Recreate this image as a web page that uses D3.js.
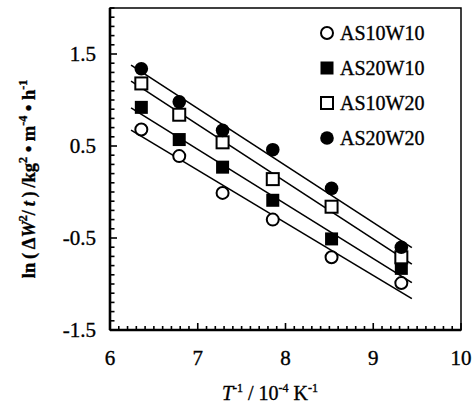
<!DOCTYPE html>
<html>
<head>
<meta charset="utf-8">
<script src="https://cdn.jsdelivr.net/npm/d3@7"></script>
<style>
  body { margin: 0; background: #fff; }
  svg text { font-family: "Liberation Serif", "DejaVu Serif", serif; fill: #000; stroke: #000; stroke-width: 0.35px; }
</style>
</head>
<body>
<div class="canvas"></div>
<script>
// Data: x = 10^4 / T, y = ln(dW^2/t)
const invT = [6.357, 6.789, 7.283, 7.855, 8.525, 9.320]
const seriesNames = ['AS10W10', 'AS20W10', 'AS10W20', 'AS20W20']
const as10w10 = [0.68, 0.39, -0.01, -0.30, -0.71, -0.99]
const as20w10 = [0.92, 0.57, 0.27, -0.09, -0.51, -0.83]
const as10w20 = [1.18, 0.84, 0.54, 0.14, -0.16, -0.71]
const as20w20 = [1.34, 0.98, 0.67, 0.46, 0.04, -0.60]
const xTicks = [6, 7, 8, 9, 10]
const yTicks = [-1.5, -0.5, 0.5, 1.5]
const fitRange = [6.24, 9.44]

const values = [as10w10, as20w10, as10w20, as20w20]
const shapes = ['circle-open', 'square-filled', 'square-open', 'circle-filled']

const width = 475
const height = 407
const margin = { top: 8, right: 14, bottom: 77, left: 110 }
const graphWidth = width - margin.left - margin.right
const graphHeight = height - margin.top - margin.bottom

const svg = d3.select('.canvas')
  .append('svg')
  .attr('width', width)
  .attr('height', height)

const graph = svg.append('g')
  .attr('transform', `translate(${margin.left}, ${margin.top})`)

// Scales
const x = d3.scaleLinear().domain([6, 10]).range([0, graphWidth])
const y = d3.scaleLinear().domain([-1.5, 2.0]).range([graphHeight, 0])

// Minor ticks (inside)
const xMinor = d3.range(60, 101).map(d => d / 10)
const yMinor = d3.range(-15, 21).map(d => d / 10)

graph.append('g').selectAll('line')
  .data(xMinor)
  .enter().append('line')
  .attr('x1', d => x(d)).attr('x2', d => x(d))
  .attr('y1', graphHeight).attr('y2', d => graphHeight - (xTicks.includes(d) ? 7 : 4))
  .attr('stroke', '#000').attr('stroke-width', 1.6)

graph.append('g').selectAll('line')
  .data(yMinor)
  .enter().append('line')
  .attr('y1', d => y(d)).attr('y2', d => y(d))
  .attr('x1', 0).attr('x2', d => (yTicks.includes(d) ? 7 : 4.5))
  .attr('stroke', '#000').attr('stroke-width', 1.6)

// Frame
graph.append('rect')
  .attr('width', graphWidth)
  .attr('height', graphHeight)
  .attr('fill', 'none')
  .attr('stroke', '#000')
  .attr('stroke-width', 1.5)
graph.append('line')
  .attr('x1', 0).attr('x2', 0).attr('y1', 0).attr('y2', graphHeight)
  .attr('stroke', '#000').attr('stroke-width', 2.6)
graph.append('line')
  .attr('x1', 0).attr('x2', graphWidth).attr('y1', graphHeight).attr('y2', graphHeight)
  .attr('stroke', '#000').attr('stroke-width', 2.6)

// Tick labels
graph.append('g').selectAll('text')
  .data(xTicks)
  .enter().append('text')
  .attr('x', d => x(d))
  .attr('y', graphHeight + 35)
  .attr('text-anchor', 'middle')
  .attr('font-size', 21)
  .text(d => d)

graph.append('g').selectAll('text')
  .data(yTicks)
  .enter().append('text')
  .attr('x', -14)
  .attr('y', d => y(d) + 7)
  .attr('text-anchor', 'end')
  .attr('font-size', 21)
  .text(d => d)

// Least squares fit lines
const fit = (xs, ys) => {
  const mx = d3.mean(xs), my = d3.mean(ys)
  const b = d3.sum(xs, (v, i) => (v - mx) * (ys[i] - my)) / d3.sum(xs, v => (v - mx) * (v - mx))
  return v => my + b * (v - mx)
}

values.forEach(vals => {
  const f = fit(invT, vals)
  graph.append('line')
    .attr('x1', x(fitRange[0])).attr('y1', y(f(fitRange[0])))
    .attr('x2', x(fitRange[1])).attr('y2', y(f(fitRange[1])))
    .attr('stroke', '#000')
    .attr('stroke-width', 1.6)
})

// Markers
const drawMarker = (g, shape, cx, cy) => {
  const filled = shape.endsWith('filled')
  if (shape.startsWith('circle')) {
    g.append('circle')
      .attr('cx', cx).attr('cy', cy).attr('r', filled ? 6.8 : 6)
      .attr('fill', filled ? '#000' : '#fff')
      .attr('stroke', '#000').attr('stroke-width', filled ? 0 : 2)
  } else {
    const s = filled ? 13 : 12
    g.append('rect')
      .attr('x', cx - s / 2).attr('y', cy - s / 2)
      .attr('width', s).attr('height', s)
      .attr('fill', filled ? '#000' : '#fff')
      .attr('stroke', '#000').attr('stroke-width', filled ? 0 : 2)
  }
}

values.forEach((vals, k) => {
  const g = graph.append('g')
  vals.forEach((v, i) => drawMarker(g, shapes[k], x(invT[i]), y(v)))
})

// Legend
const legend = graph.append('g')
seriesNames.forEach((name, i) => {
  const ly = 25 + i * 35
  drawMarker(legend, shapes[i], 217, ly)
  legend.append('text')
    .attr('x', 230)
    .attr('y', ly + 7)
    .attr('font-size', 20)
    .text(name)
})

// X axis title
const xTitle = svg.append('text')
  .attr('x', 270)
  .attr('y', 400)
  .attr('text-anchor', 'middle')
  .attr('font-size', 20)
xTitle.append('tspan').attr('font-style', 'italic').text('T')
xTitle.append('tspan').attr('font-size', 12).attr('dy', -8).text('-1')
xTitle.append('tspan').attr('dy', 8).text(' / 10')
xTitle.append('tspan').attr('font-size', 12).attr('dy', -8).text('-4')
xTitle.append('tspan').attr('dy', 8).text(' K')
xTitle.append('tspan').attr('font-size', 12).attr('dy', -8).text('-1')

// Y axis title
const yTitle = svg.append('text')
  .attr('transform', 'translate(35, 179) rotate(-90)')
  .attr('text-anchor', 'middle')
  .attr('font-size', 18.5)
  .attr('font-weight', 'bold')
yTitle.append('tspan').text('ln\u2009(\u2009Δ')
yTitle.append('tspan').attr('font-style', 'italic').text('W')
yTitle.append('tspan').attr('font-size', 12).attr('dy', -8).text('2')
yTitle.append('tspan').attr('dy', 8).text('/\u2009')
yTitle.append('tspan').attr('font-style', 'italic').text('t')
yTitle.append('tspan').text('\u2009)\u2009/kg')
yTitle.append('tspan').attr('font-size', 12).attr('dy', -8).text('2')
yTitle.append('tspan').attr('dy', 8).text(' • m')
yTitle.append('tspan').attr('font-size', 12).attr('dy', -8).text('-4')
yTitle.append('tspan').attr('dy', 8).text(' • h')
yTitle.append('tspan').attr('font-size', 12).attr('dy', -8).text('-1')
</script>
</body>
</html>
